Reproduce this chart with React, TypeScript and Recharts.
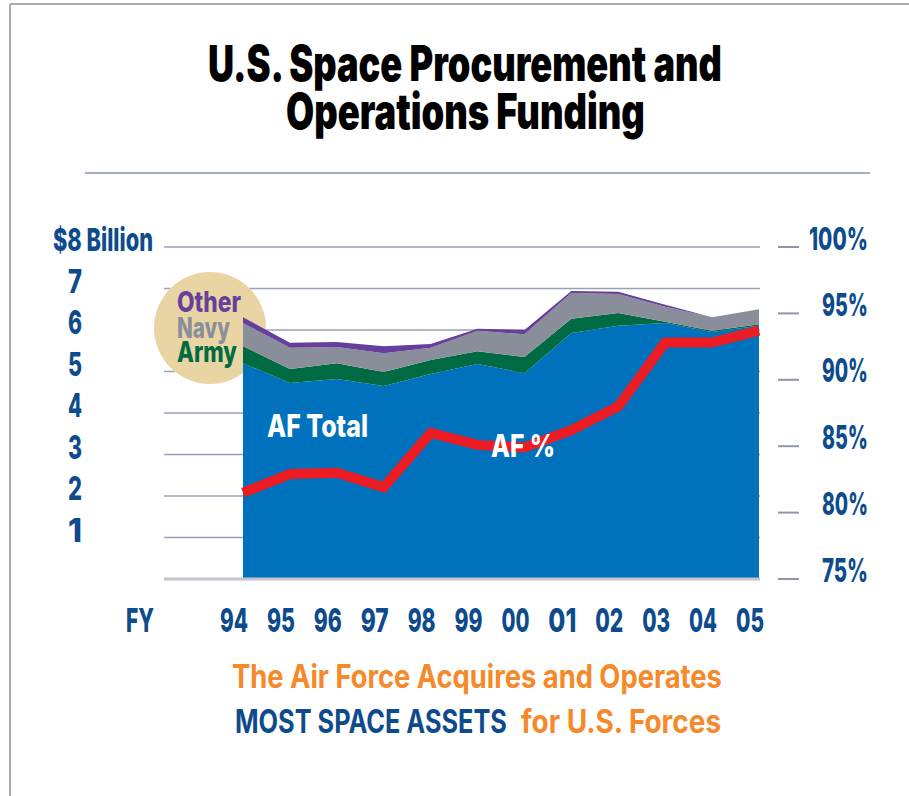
import React from 'react';
import { ComposedChart, Area, Line, XAxis, YAxis, CartesianGrid, ReferenceLine } from 'recharts';

const years = ['94', '95', '96', '97', '98', '99', '00', '01', '02', '03', '04', '05'];
const afTotal = [5.2, 4.72, 4.82, 4.65, 4.94, 5.18, 4.96, 5.93, 6.1, 6.17, 5.95, 6.1];
const army = [0.41, 0.34, 0.38, 0.34, 0.34, 0.31, 0.39, 0.34, 0.31, 0.03, 0.03, 0.04];
const navy = [0.56, 0.51, 0.39, 0.45, 0.29, 0.49, 0.55, 0.62, 0.46, 0.36, 0.33, 0.36];
const other = [0.14, 0.12, 0.12, 0.17, 0.09, 0.05, 0.1, 0.05, 0.05, 0.05, 0.0, 0.0];
const afPercent = [81.5, 82.9, 83.0, 81.9, 86.0, 85.1, 84.9, 86.2, 88.0, 92.8, 92.8, 93.7];
const leftTicks = [0, 1, 2, 3, 4, 5, 6, 7, 8];
const rightTicks = [75, 80, 85, 90, 95, 100];

const data = years.map((y, i) => ({
  year: y,
  af: afTotal[i],
  army: army[i],
  navy: navy[i],
  other: other[i],
  pct: afPercent[i],
}));

const NAVY = '#0D4B8C';
const ORANGE = '#F6892A';
const FONT = "Inter, Roboto, 'Liberation Sans', Arial, sans-serif";
const GRID = '#9AA0B5';
const CIRCLE = { cx: 210, cy: 328, r: 56 };

let measureCtx: CanvasRenderingContext2D | null = null;
const naturalWidth = (text: string, size: number, weight: number) => {
  if (!measureCtx && typeof document !== 'undefined') {
    measureCtx = document.createElement('canvas').getContext('2d');
  }
  if (!measureCtx) return text.length * size * 0.55;
  measureCtx.font = `${weight} ${size}px ${FONT}`;
  return measureCtx.measureText(text).width || text.length * size * 0.55;
};

// Condensed text: natural glyphs squeezed horizontally to the width
const T = ({ x, y, w, size, color, weight = 800, anchor = 'start', children }: any) => {
  const text = String(children);
  const sx = w / naturalWidth(text, size, weight);
  const x0 = anchor === 'middle' ? x - w / 2 : anchor === 'end' ? x - w : x;
  return (
    <text
      transform={`translate(${x0},${y}) scale(${sx},1)`}
      x={0}
      y={0}
      fontFamily={FONT}
      fontSize={size}
      fontWeight={weight}
      fill={color}
      textAnchor="start"
    >
      {text}
    </text>
  );
};

const gridLine = (props: any) => {
  const { x1, x2, y1, index } = props;
  const dy = y1 - CIRCLE.cy;
  const segs: [number, number][] = [];
  if (Math.abs(dy) < CIRCLE.r) {
    const hw = Math.sqrt(CIRCLE.r * CIRCLE.r - dy * dy);
    const a = CIRCLE.cx - hw;
    const b = CIRCLE.cx + hw;
    if (a > x1) segs.push([x1, a]);
    if (b < x2) segs.push([Math.max(b, x1), x2]);
  } else {
    segs.push([x1, x2]);
  }
  return (
    <g key={`gl-${index}-${y1}`}>
      {segs.map(([s, e], i) => (
        <line key={i} x1={s} x2={e} y1={y1} y2={y1} stroke={GRID} strokeWidth={1.5} />
      ))}
    </g>
  );
};

const leftTick = (props: any) => {
  const { y, payload, index } = props;
  const v = payload.value;
  if (v === 0) return <g key={`lt-${index}`} />;
  if (v === 8)
    return (
      <g key={`lt-${index}`}>
        <T x={53} y={y + 4} w={100} size={32} color={NAVY}>
          $8 Billion
        </T>
      </g>
    );
  return (
    <g key={`lt-${index}`}>
      <T x={75} y={y + 4} w={14} size={33} color={NAVY} anchor="middle">
        {String(v)}
      </T>
    </g>
  );
};

const rightTick = (props: any) => {
  const { y, payload, index } = props;
  const label = `${payload.value}%`;
  return (
    <g key={`rt-${index}`}>
      <line x1={778} x2={799} y1={y} y2={y} stroke="#9096A8" strokeWidth={2} />
      <T x={868} y={y + 2.5} w={label.length === 4 ? 59 : 46} size={32} color={NAVY} anchor="end">
        {label}
      </T>
    </g>
  );
};

const xTick = (props: any) => {
  const { x, payload, index } = props;
  return (
    <g key={`xt-${index}`}>
      <T x={x - 9} y={632} w={28} size={33} color={NAVY} anchor="middle">
        {payload.value}
      </T>
    </g>
  );
};

export default function App() {
  const abs: React.CSSProperties = { position: 'absolute', left: 0, top: 0 };
  return (
    <div style={{ position: 'absolute', left: 0, top: 0, width: 909, height: 796, background: '#fff' }}>
      <svg width={909} height={796} style={abs}>
        <line x1={10} y1={4} x2={10} y2={796} stroke="#ABABAB" strokeWidth={2} />
        <line x1={10} y1={4} x2={909} y2={4} stroke="#ABABAB" strokeWidth={2} />
        <T x={208} y={81} w={516} size={49} color="#000" weight={900}>
          U.S. Space Procurement and
        </T>
        <T x={286} y={129} w={359} size={49} color="#000" weight={900}>
          Operations Funding
        </T>
        <line x1={85} y1={173} x2={870} y2={173} stroke="#8B93AE" strokeWidth={1.5} />
        <circle cx={CIRCLE.cx} cy={CIRCLE.cy} r={CIRCLE.r} fill="#E9D5A4" />
        <T x={177} y={312} w={64} size={28} color="#673F9C">
          Other
        </T>
        <T x={177} y={338} w={53} size={28} color="#8B8F9B">
          Navy
        </T>
        <T x={177} y={362} w={60} size={28} color="#006B3F">
          Army
        </T>
        <T x={126} y={632} w={28} size={33} color={NAVY}>
          FY
        </T>
        <T x={232} y={688} w={490} size={32} color={ORANGE} weight={700}>
          The Air Force Acquires and Operates
        </T>
        <T x={235} y={733} w={272} size={32} color={NAVY} weight={700}>
          MOST SPACE ASSETS
        </T>
        <T x={521} y={733} w={201} size={32} color={ORANGE} weight={700}>
          for U.S. Forces
        </T>
      </svg>
      <div style={abs}>
        <ComposedChart
          width={909}
          height={796}
          data={data}
          margin={{ top: 247, right: 145, bottom: 213, left: 160 }}
        >
          <CartesianGrid yAxisId="left" vertical={false} horizontal={gridLine} stroke={GRID} />
          <XAxis
            dataKey="year"
            scale="point"
            padding={{ left: 79, right: 1 }}
            axisLine={false}
            tickLine={false}
            height={4}
            interval={0}
            tick={xTick}
          />
          <YAxis
            yAxisId="left"
            domain={[0, 8]}
            ticks={leftTicks}
            width={4}
            axisLine={false}
            tickLine={false}
            interval={0}
            tick={leftTick}
          />
          <YAxis
            yAxisId="right"
            orientation="right"
            domain={[75, 100]}
            ticks={rightTicks}
            width={4}
            axisLine={false}
            tickLine={false}
            interval={0}
            tick={rightTick}
          />
          <Area yAxisId="left" type="linear" dataKey="af" stackId="s" fill="#0071BC" fillOpacity={1} stroke="none" isAnimationActive={false} />
          <Area yAxisId="left" type="linear" dataKey="army" stackId="s" fill="#006B42" fillOpacity={1} stroke="none" isAnimationActive={false} />
          <Area yAxisId="left" type="linear" dataKey="navy" stackId="s" fill="#8A8E9B" fillOpacity={1} stroke="none" isAnimationActive={false} />
          <Area yAxisId="left" type="linear" dataKey="other" stackId="s" fill="#653F9B" fillOpacity={1} stroke="none" isAnimationActive={false} />
          <ReferenceLine yAxisId="left" y={0} stroke="#C3C4CC" strokeWidth={3} />
          <Line
            yAxisId="right"
            type="linear"
            dataKey="pct"
            stroke="#EC1C24"
            strokeWidth={10}
            strokeLinejoin="miter"
            strokeLinecap="butt"
            dot={false}
            activeDot={false}
            isAnimationActive={false}
          />
        </ComposedChart>
      </div>
      <svg width={909} height={796} style={{ ...abs, pointerEvents: 'none' }}>
        <T x={267} y={437} w={101} size={31} color="#fff">
          AF Total
        </T>
        <T x={491} y={457} w={64} size={31} color="#fff">
          AF %
        </T>
      </svg>
    </div>
  );
}
